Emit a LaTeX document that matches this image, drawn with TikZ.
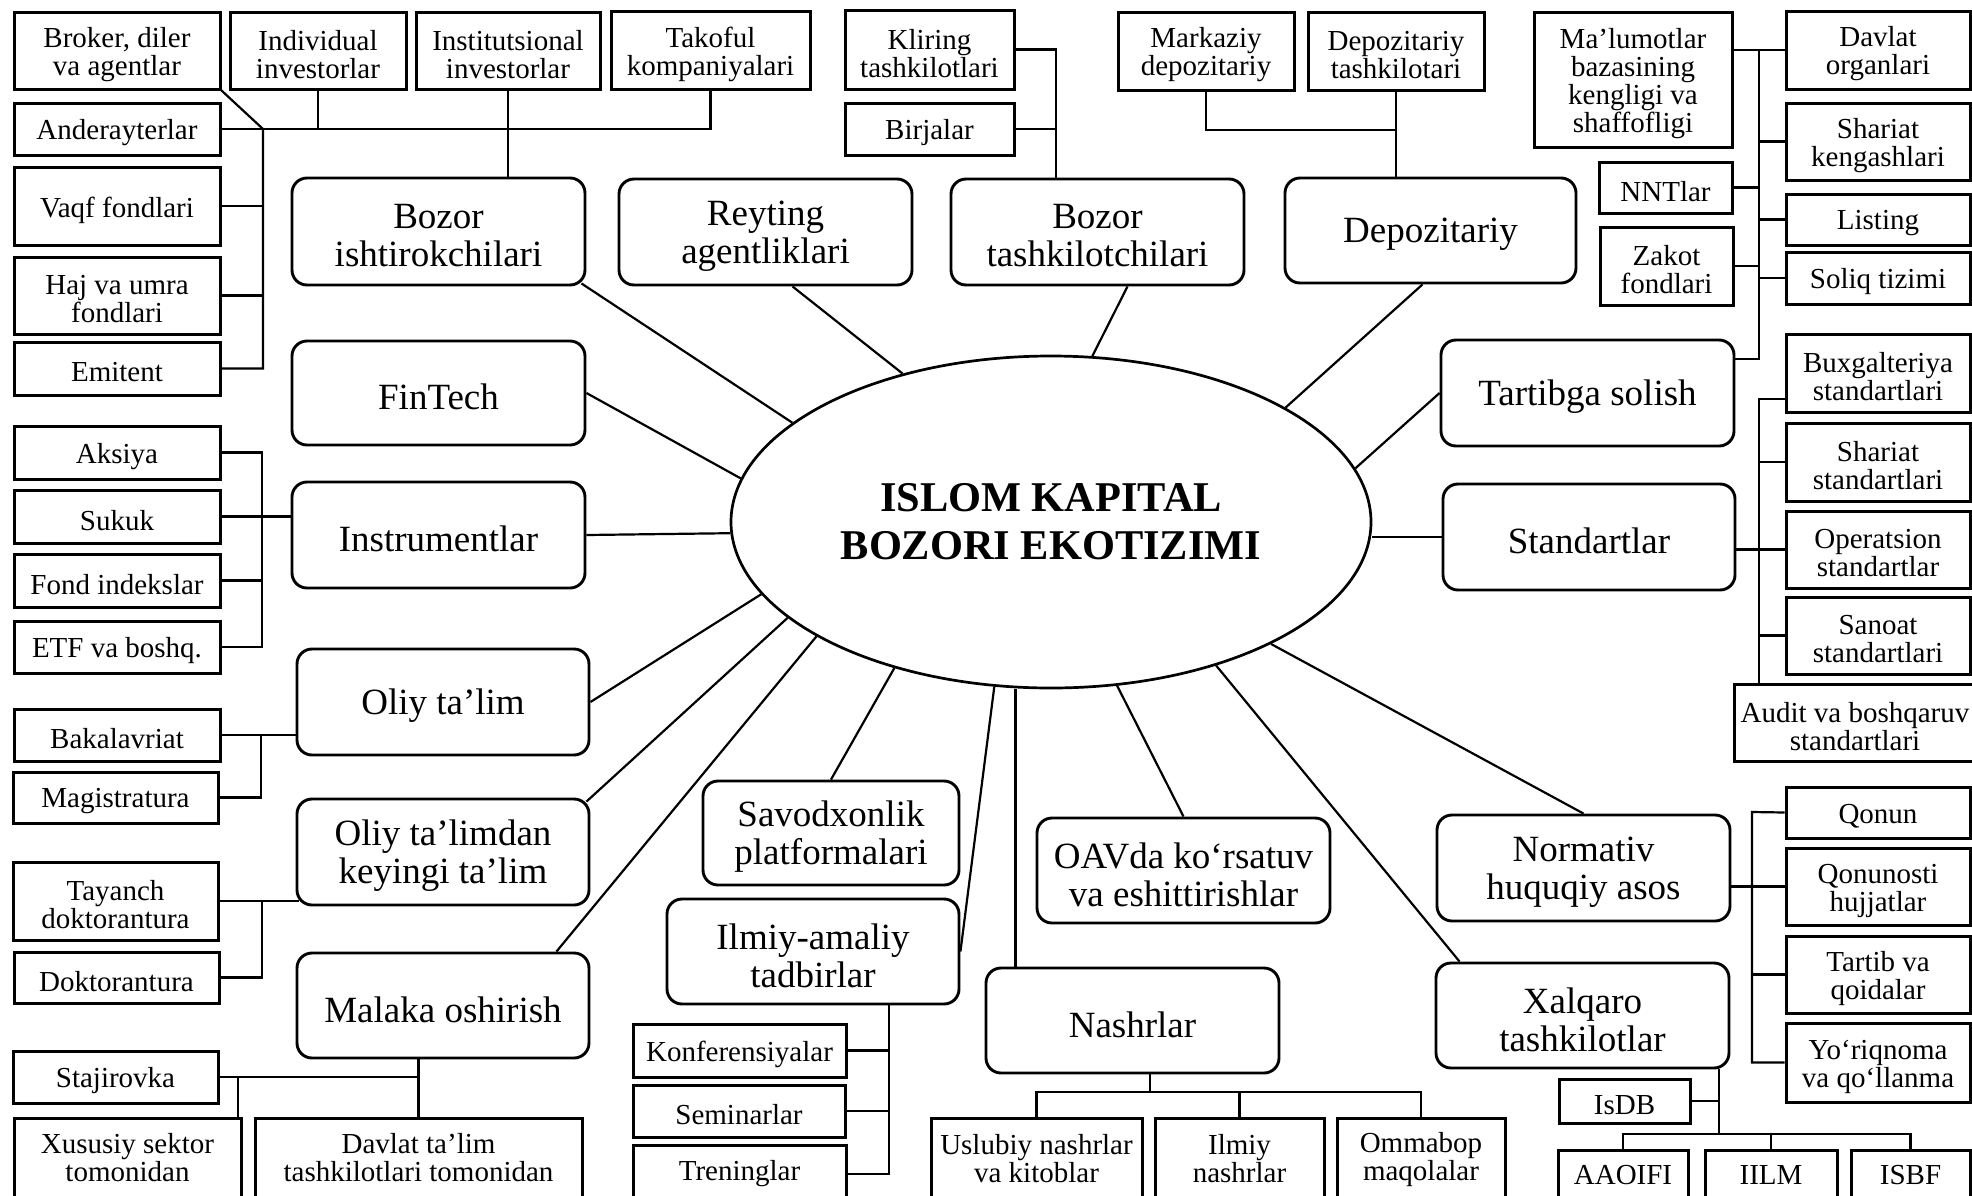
\documentclass[tikz,border=0pt]{standalone}
\usepackage{fontspec}
\setmainfont{Liberation Serif}
\usetikzlibrary{shapes.geometric,calc}
\tikzset{
  sbox/.style={draw, line width=1.5pt, inner sep=0pt},
  rbox/.style={draw, rounded corners=7.5pt, line width=1.45pt, inner sep=0pt},
  sbox-text/.style={inner sep=0pt, align=center, font=\fontsize{14.5}{14}\selectfont},
  rbox-text/.style={inner sep=0pt, align=center, font=\fontsize{18.5}{19}\selectfont},
  conn/.style={line width=1.1pt},
  coreshape/.style={draw, ellipse, line width=1.35pt, inner sep=0pt, align=center, font=\bfseries\fontsize{21.2}{24}\selectfont}
}
% box given by its corners, text slightly below the centre
\newcommand\mkbox[7]{%
  \node[#1, minimum width={(#5-#3)*0.5pt}, minimum height={(#6-#4)*0.5pt}] (#2) at ({(#3+#5)/2},{(#4+#6)/2}) {};
  \node[#1-text] (#2-t) at ($(#2.center)+(0,4)$) {#7};}
% box cut by the lower edge of the picture: text at a given height
\newcommand\mkbot[7]{%
  \node[#1, minimum width={(#5-#3)*0.5pt}, minimum height={(1240-#4)*0.5pt}] (#2) at ({(#3+#5)/2},{(#4+1240)/2}) {};
  \node[#1-text] (#2-t) at ({(#3+#5)/2},#6) {#7};}
\begin{document}
\begin{tikzpicture}[x=0.5pt,y=-0.5pt]
\useasboundingbox (0,0) rectangle (1972,1195);
\clip (0,0) rectangle (1972,1195);
\fill[white] (0,0) rectangle (1972,1195);

% centre
\node[coreshape, minimum width=320pt, minimum height=166pt] (core) at (1051,522) {ISLOM KAPITAL\\BOZORI EKOTIZIMI};

% main rounded boxes
\mkbox{rbox}{bis}{292}{178}{585}{285}{Bozor\\ishtirokchilari}
\mkbox{rbox}{rey}{619}{179}{912}{285}{Reyting\\agentliklari}
\mkbox{rbox}{bta}{951}{179}{1244}{285}{Bozor\\tashkilotchilari}
\mkbox{rbox}{depo}{1285}{178}{1576}{283}{Depozitariy}
\mkbox{rbox}{fin}{292}{341}{585}{445}{FinTech}
\mkbox{rbox}{inst}{292}{482}{585}{588}{Instrumentlar}
\mkbox{rbox}{oliy}{297}{649}{589}{755}{Oliy ta’lim}
\mkbox{rbox}{olk}{297}{799}{589}{905}{Oliy ta’limdan\\keyingi ta’lim}
\mkbox{rbox}{mal}{297}{953}{589}{1058}{Malaka oshirish}
\mkbox{rbox}{sav}{703}{781}{959}{885}{Savodxonlik\\platformalari}
\mkbox{rbox}{ilm}{667}{899}{959}{1004}{Ilmiy-amaliy\\tadbirlar}
\mkbox{rbox}{nas}{986}{968}{1279}{1073}{Nashrlar}
\mkbox{rbox}{oav}{1037}{818}{1330}{923}{OAVda ko‘rsatuv\\va eshittirishlar}
\mkbox{rbox}{tar}{1441}{340}{1734}{446}{Tartibga solish}
\mkbox{rbox}{std}{1443}{484}{1735}{590}{Standartlar}
\mkbox{rbox}{nor}{1437}{815}{1730}{921}{Normativ\\huquqiy asos}
\mkbox{rbox}{xal}{1436}{963}{1729}{1068}{Xalqaro\\tashkilotlar}

% small boxes
\mkbox{sbox}{brk}{14}{12}{220}{89}{Broker, diler\\va agentlar}
\mkbox{sbox}{ind}{230}{12}{406}{89}{Individual\\investorlar}
\mkbox{sbox}{ins}{416}{12}{600}{89}{Institutsional\\investorlar}
\mkbox{sbox}{tak}{611}{11}{810}{89}{Takoful\\kompaniyalari}
\mkbox{sbox}{ande}{14}{103}{220}{155}{Anderayterlar}
\mkbox{sbox}{vaq}{14}{167}{220}{245}{Vaqf fondlari}
\mkbox{sbox}{haj}{14}{257}{220}{334}{Haj va umra\\fondlari}
\mkbox{sbox}{emi}{14}{342}{220}{395}{Emitent}
\mkbox{sbox}{kli}{845}{10}{1014}{89}{Kliring\\tashkilotlari}
\mkbox{sbox}{bir}{845}{103}{1014}{155}{Birjalar}
\mkbox{sbox}{mar}{1118}{12}{1294}{90}{Markaziy\\depozitariy}
\mkbox{sbox}{dept}{1308}{12}{1484}{90}{Depozitariy\\tashkilotari}
\mkbox{sbox}{mlm}{1534}{12}{1732}{147}{Ma’lumotlar\\bazasining\\kengligi va\\shaffofligi}
\mkbox{sbox}{dvo}{1786}{11}{1970}{89}{Davlat\\organlari}
\mkbox{sbox}{shk}{1786}{103}{1970}{180}{Shariat\\kengashlari}
\mkbox{sbox}{nnt}{1599}{162}{1732}{213}{NNTlar}
\mkbox{sbox}{lis}{1786}{194}{1970}{245}{Listing}
\mkbox{sbox}{zak}{1600}{227}{1733}{305}{Zakot\\fondlari}
\mkbox{sbox}{sol}{1786}{252}{1970}{304}{Soliq tizimi}
\mkbox{sbox}{bux}{1786}{334}{1970}{412}{Buxgalteriya\\standartlari}
\mkbox{sbox}{shs}{1786}{423}{1970}{501}{Shariat\\standartlari}
\mkbox{sbox}{ops}{1786}{511}{1970}{588}{Operatsion\\standartlar}
\mkbox{sbox}{san}{1786}{597}{1970}{674}{Sanoat\\standartlari}
\mkbox{sbox}{aud}{1734}{684}{1976}{761}{Audit va boshqaruv\\standartlari}
\mkbox{sbox}{qon}{1786}{787}{1970}{838}{Qonun}
\mkbox{sbox}{qos}{1786}{848}{1970}{925}{Qonunosti\\hujjatlar}
\mkbox{sbox}{tvq}{1786}{936}{1970}{1013}{Tartib va\\qoidalar}
\mkbox{sbox}{yor}{1786}{1023}{1970}{1102}{Yo‘riqnoma\\va qo‘llanma}
\mkbox{sbox}{isdb}{1559}{1079}{1690}{1123}{IsDB}
\mkbot{sbox}{aao}{1558}{1150}{1688}{1175}{AAOIFI}
\mkbot{sbox}{iilm}{1705}{1150}{1837}{1175}{IILM}
\mkbot{sbox}{isbf}{1851}{1150}{1970}{1175}{ISBF}
\mkbot{sbox}{usl}{931}{1118}{1142}{1159}{Uslubiy nashrlar\\va kitoblar}
\mkbot{sbox}{iln}{1155}{1118}{1324}{1159}{Ilmiy\\nashrlar}
\mkbot{sbox}{omm}{1337}{1118}{1505}{1160}{Ommabop\\maqolalar}
\mkbox{sbox}{kon}{633}{1024}{846}{1077}{Konferensiyalar}
\mkbox{sbox}{sem}{633}{1085}{845}{1137}{Seminarlar}
\mkbot{sbox}{tre}{633}{1145}{846}{1174}{Treninglar}
\mkbox{sbox}{aks}{14}{426}{220}{479}{Aksiya}
\mkbox{sbox}{suk}{14}{490}{220}{543}{Sukuk}
\mkbox{sbox}{fon}{14}{554}{220}{607}{Fond indekslar}
\mkbox{sbox}{etf}{14}{621}{220}{673}{ETF va boshq.}
\mkbox{sbox}{bak}{14}{709}{220}{761}{Bakalavriat}
\mkbox{sbox}{mag}{13}{772}{218}{823}{Magistratura}
\mkbox{sbox}{tay}{13}{862}{218}{940}{Tayanch\\doktorantura}
\mkbox{sbox}{dok}{14}{952}{219}{1003}{Doktorantura}
\mkbox{sbox}{sta}{13}{1051}{218}{1103}{Stajirovka}
\mkbot{sbox}{xus}{14}{1118}{241}{1158}{Xususiy sektor\\tomonidan}
\mkbot{sbox}{dav}{255}{1118}{582}{1158}{Davlat ta’lim\\tashkilotlari tomonidan}

% bus coordinates
\coordinate (bL) at (263,129);
\coordinate (bK) at (1056,50);
\coordinate (bD) at (1396,130);
\coordinate (bR) at (1759,51);
\coordinate (tR) at (1759,359);
\coordinate (bS) at (1759,399);
\coordinate (bN) at (1752,812);
\coordinate (bX) at (1719,1134);
\coordinate (bNs) at (1150,1092);
\coordinate (bI) at (889,1004);
\coordinate (bXu) at (238,1077);
\coordinate (bO) at (261,733);
\coordinate (bT) at (262,901);
\coordinate (bA) at (262,452);

% rays from the centre
\draw[conn] ($(bis.south east)+(-5,-3)$) -- (core.159);
\draw[conn] (fin.east) -- (core.172);
\draw[conn] (inst.east) -- (core.182);
\draw[conn] (oliy.east) -- (core.194);
\draw[conn] ($(olk.north east)+(-4,4)$) -- (core.200);
\draw[conn] ($(mal.north east)+(-34,0)$) -- (core.206);
\draw[conn] (sav.north) -- (core.223);
\draw[conn] (ilm.east) -- (core.251);
\draw[conn] ($(nas.north west)+(31,0)$) coordinate (nn) -- (nn |- core.south);
\draw[conn] (oav.north) -- (core.292);
\draw[conn] ($(xal.north west)+(25,0)$) -- (core.319);
\draw[conn] (nor.north) -- (core.331);
\draw[conn] (std.west) -- (std.west -| core.east);
\draw[conn] (tar.west) -- (core.10);
\draw[conn] ($(depo.south)+(-8,0)$) -- (core.26);
\draw[conn] ($(bta.south)+(30,0)$) -- (core.76);
\draw[conn] ($(rey.south)+(27,0)$) -- (core.135);

% market participants
\draw[conn] (ande.east) -- (tak.south |- ande.east) -- (tak.south);
\draw[conn] (brk.south east) -- (bL) -- (bL |- emi.east) -- (emi.east);
\draw[conn] (vaq.east) -- (vaq.east -| bL);
\draw[conn] (haj.east) -- (haj.east -| bL);
\draw[conn] (ind.south) -- (ind.south |- ande.east);
\draw[conn] (ins.south) -- (ins.south |- bis.north);

% market organisers
\draw[conn] (kli.east) -- (bK |- kli.east) -- (bK |- bta.north);
\draw[conn] (bir.east) -- (bK |- bir.east);

% depository
\draw[conn] (mar.south) -- (mar.south |- bD) -- (bD);
\draw[conn] (dept.south) -- (dept.south |- depo.north);

% regulation
\draw[conn] (mlm.east |- dvo.west) -- (dvo.west);
\draw[conn] (bR |- dvo.west) -- (tR) -- (tar.east |- tR);
\draw[conn] (shk.west) -- (shk.west -| bR);
\draw[conn] (nnt.east) -- (nnt.east -| bR);
\draw[conn] (lis.west) -- (lis.west -| bR);
\draw[conn] (zak.east) -- (zak.east -| bR);
\draw[conn] (sol.west) -- (sol.west -| bR);

% standards
\draw[conn] (bux.west |- bS) -- (bS) -- (bS |- aud.north);
\draw[conn] (shs.west) -- (shs.west -| bS);
\draw[conn] (std.east |- ops.west) -- (ops.west);
\draw[conn] (san.west) -- (san.west -| bS);

% normative base
\draw[conn] (qon.west) -- (bN) -- (bN |- yor.west) -- (yor.west);
\draw[conn] (nor.east |- qos.west) -- (qos.west);
\draw[conn] (tvq.west) -- (tvq.west -| bN);

% international organisations
\draw[conn] (bX |- xal.south) -- (bX);
\draw[conn] (isdb.east) -- (isdb.east -| bX);
\draw[conn] (aao.north) -- (aao.north |- bX) -- (isbf.north |- bX) -- (isbf.north);
\draw[conn] (iilm.north) -- (iilm.north |- bX);

% publications
\draw[conn] (bNs |- nas.south) -- (bNs);
\draw[conn] (usl.north) -- (usl.north |- bNs) -- (omm.north |- bNs) -- (omm.north);
\draw[conn] (iln.north) -- (iln.north |- bNs);

% events
\draw[conn] (bI |- ilm.south) -- (bI |- tre-t) -- (tre.east |- tre-t);
\draw[conn] (kon.east) -- (kon.east -| bI);
\draw[conn] (sem.east) -- (sem.east -| bI);

% training
\draw[conn] (dav.north |- mal.south) -- (dav.north);
\draw[conn] (sta.east) -- (dav.north |- sta.east);
\draw[conn] (bXu) -- (bXu |- xus.north);

% higher education
\draw[conn] (bak.east) -- (oliy.west |- bak.east);
\draw[conn] (bO |- bak.east) -- (bO |- mag.east) -- (mag.east);
\draw[conn] (tay.east) -- ($(olk.west |- tay.east)+(3,0)$);
\draw[conn] (bT |- tay.east) -- (bT |- dok.east) -- (dok.east);

% instruments
\draw[conn] (aks.east) -- (bA |- aks.east) -- (bA |- etf.east) -- (etf.east);
\draw[conn] (suk.east) -- (inst.west |- suk.east);
\draw[conn] (fon.east) -- (fon.east -| bA);
\end{tikzpicture}
\end{document}
